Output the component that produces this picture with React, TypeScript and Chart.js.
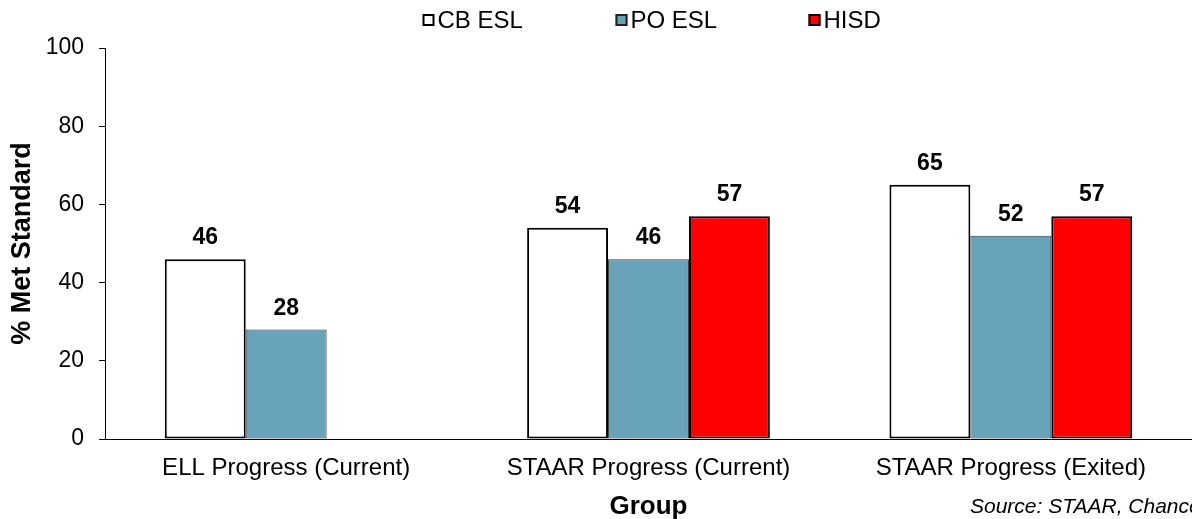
import React, { useEffect, useRef } from 'react';
import { Chart, registerables } from 'chart.js';

Chart.register(...registerables);

const categories = ['ELL Progress (Current)', 'STAAR Progress (Current)', 'STAAR Progress (Exited)'];
const seriesNames = ['CB ESL', 'PO ESL', 'HISD'];
const cbEsl: (number | null)[] = [46, 54, 65];
const poEsl: (number | null)[] = [28, 46, 52];
const hisd: (number | null)[] = [null, 57, 57];
const yTickMin = 0;
const yTickMax = 100;
const yTickStep = 20;
const xAxisTitle = 'Group';
const yAxisTitle = '% Met Standard';
const sourceNote = 'Source: STAAR, Chancery';

const FONT = '"Liberation Sans", Arial, Helvetica, sans-serif';
const W = 1192;
const H = 519;

const fills = ['#FFFFFF', '#68A3B9', '#FF0000'];
const borders = ['#000000', '#2F3B40', '#000000'];
const borderWidths = [2, 1, 2];

export default function App() {
  const ref = useRef<HTMLCanvasElement | null>(null);

  useEffect(() => {
    const canvas = ref.current;
    if (!canvas) return;

    const valueLabels = {
      id: 'valueLabels',
      afterDatasetsDraw(chart: any) {
        const ctx = chart.ctx;
        ctx.save();
        ctx.font = `bold 23px ${FONT}`;
        ctx.fillStyle = '#000';
        ctx.textAlign = 'center';
        ctx.textBaseline = 'alphabetic';
        chart.data.datasets.forEach((ds: any, di: number) => {
          const meta = chart.getDatasetMeta(di);
          meta.data.forEach((bar: any, i: number) => {
            const v = ds.data[i];
            if (v === null || v === undefined) return;
            ctx.fillText(String(v), bar.x, bar.y - 15);
          });
        });
        ctx.restore();
      },
    };

    const customLegend = {
      id: 'customLegend',
      afterDraw(chart: any) {
        const ctx = chart.ctx;
        const ca = chart.chartArea;
        const center = (ca.left + ca.right) / 2;
        const spacing = 193;
        const start = center - 226;
        ctx.save();
        ctx.font = `24px ${FONT}`;
        ctx.textBaseline = 'middle';
        ctx.textAlign = 'left';
        seriesNames.forEach((name, i) => {
          const x = start + i * spacing;
          const y = 14;
          ctx.fillStyle = fills[i];
          ctx.fillRect(x, y, 12, 12);
          ctx.strokeStyle = i === 1 ? '#222' : '#000';
          ctx.lineWidth = 2;
          ctx.strokeRect(x + 1, y + 1, 10, 10);
          ctx.fillStyle = '#000';
          ctx.fillText(name, x + 15, y + 7);
        });
        ctx.restore();
      },
    };

    const sourcePlugin = {
      id: 'sourcePlugin',
      afterDraw(chart: any) {
        const ctx = chart.ctx;
        ctx.save();
        ctx.font = `italic 21px ${FONT}`;
        ctx.fillStyle = '#000';
        ctx.textAlign = 'left';
        ctx.textBaseline = 'middle';
        ctx.fillText(sourceNote, 970, 507);
        ctx.restore();
      },
    };

    const chart = new Chart(canvas, {
      type: 'bar',
      data: {
        labels: categories,
        datasets: [cbEsl, poEsl, hisd].map((d, i) => ({
          label: seriesNames[i],
          data: d,
          backgroundColor: fills[i],
          borderColor: borders[i],
          borderWidth: borderWidths[i],
          borderSkipped: false,
          categoryPercentage: 0.67,
          barPercentage: 1.0,
        })),
      },
      options: {
        responsive: false,
        animation: false,
        devicePixelRatio: 1,
        layout: { padding: { top: 48, right: 0, bottom: 0, left: 0 } },
        plugins: {
          legend: { display: false },
          tooltip: { enabled: false },
          title: { display: false },
        },
        scales: {
          x: {
            grid: { display: false, drawTicks: false },
            border: { display: true, color: '#000', width: 1 },
            ticks: { color: '#000', font: { family: FONT, size: 24 }, padding: 15, maxRotation: 0, autoSkip: false },
            title: { display: true, text: xAxisTitle, color: '#000', font: { family: FONT, size: 26, weight: 'bold' }, padding: { top: 0, bottom: -3 } },
            afterFit(scale: any) { scale.height = 80; },
          },
          y: {
            min: yTickMin,
            max: yTickMax,
            ticks: { stepSize: yTickStep, color: '#000', font: { family: FONT, size: 23 }, padding: 15 },
            grid: { drawOnChartArea: false, drawTicks: true, tickLength: 6, color: '#000' },
            border: { display: true, color: '#000', width: 1 },
            title: { display: true, text: yAxisTitle, color: '#000', font: { family: FONT, size: 27, weight: 'bold' }, padding: { top: 6, bottom: 0 } },
            afterFit(scale: any) { scale.width = 105; },
          },
        },
      },
      plugins: [valueLabels, customLegend, sourcePlugin],
    } as any);

    return () => chart.destroy();
  }, []);

  return (
    <div style={{ position: 'fixed', left: 0, top: 0, width: W, height: H, background: '#fff', overflow: 'hidden' }}>
      <canvas ref={ref} width={W} height={H} style={{ display: 'block', width: W, height: H }} />
    </div>
  );
}
